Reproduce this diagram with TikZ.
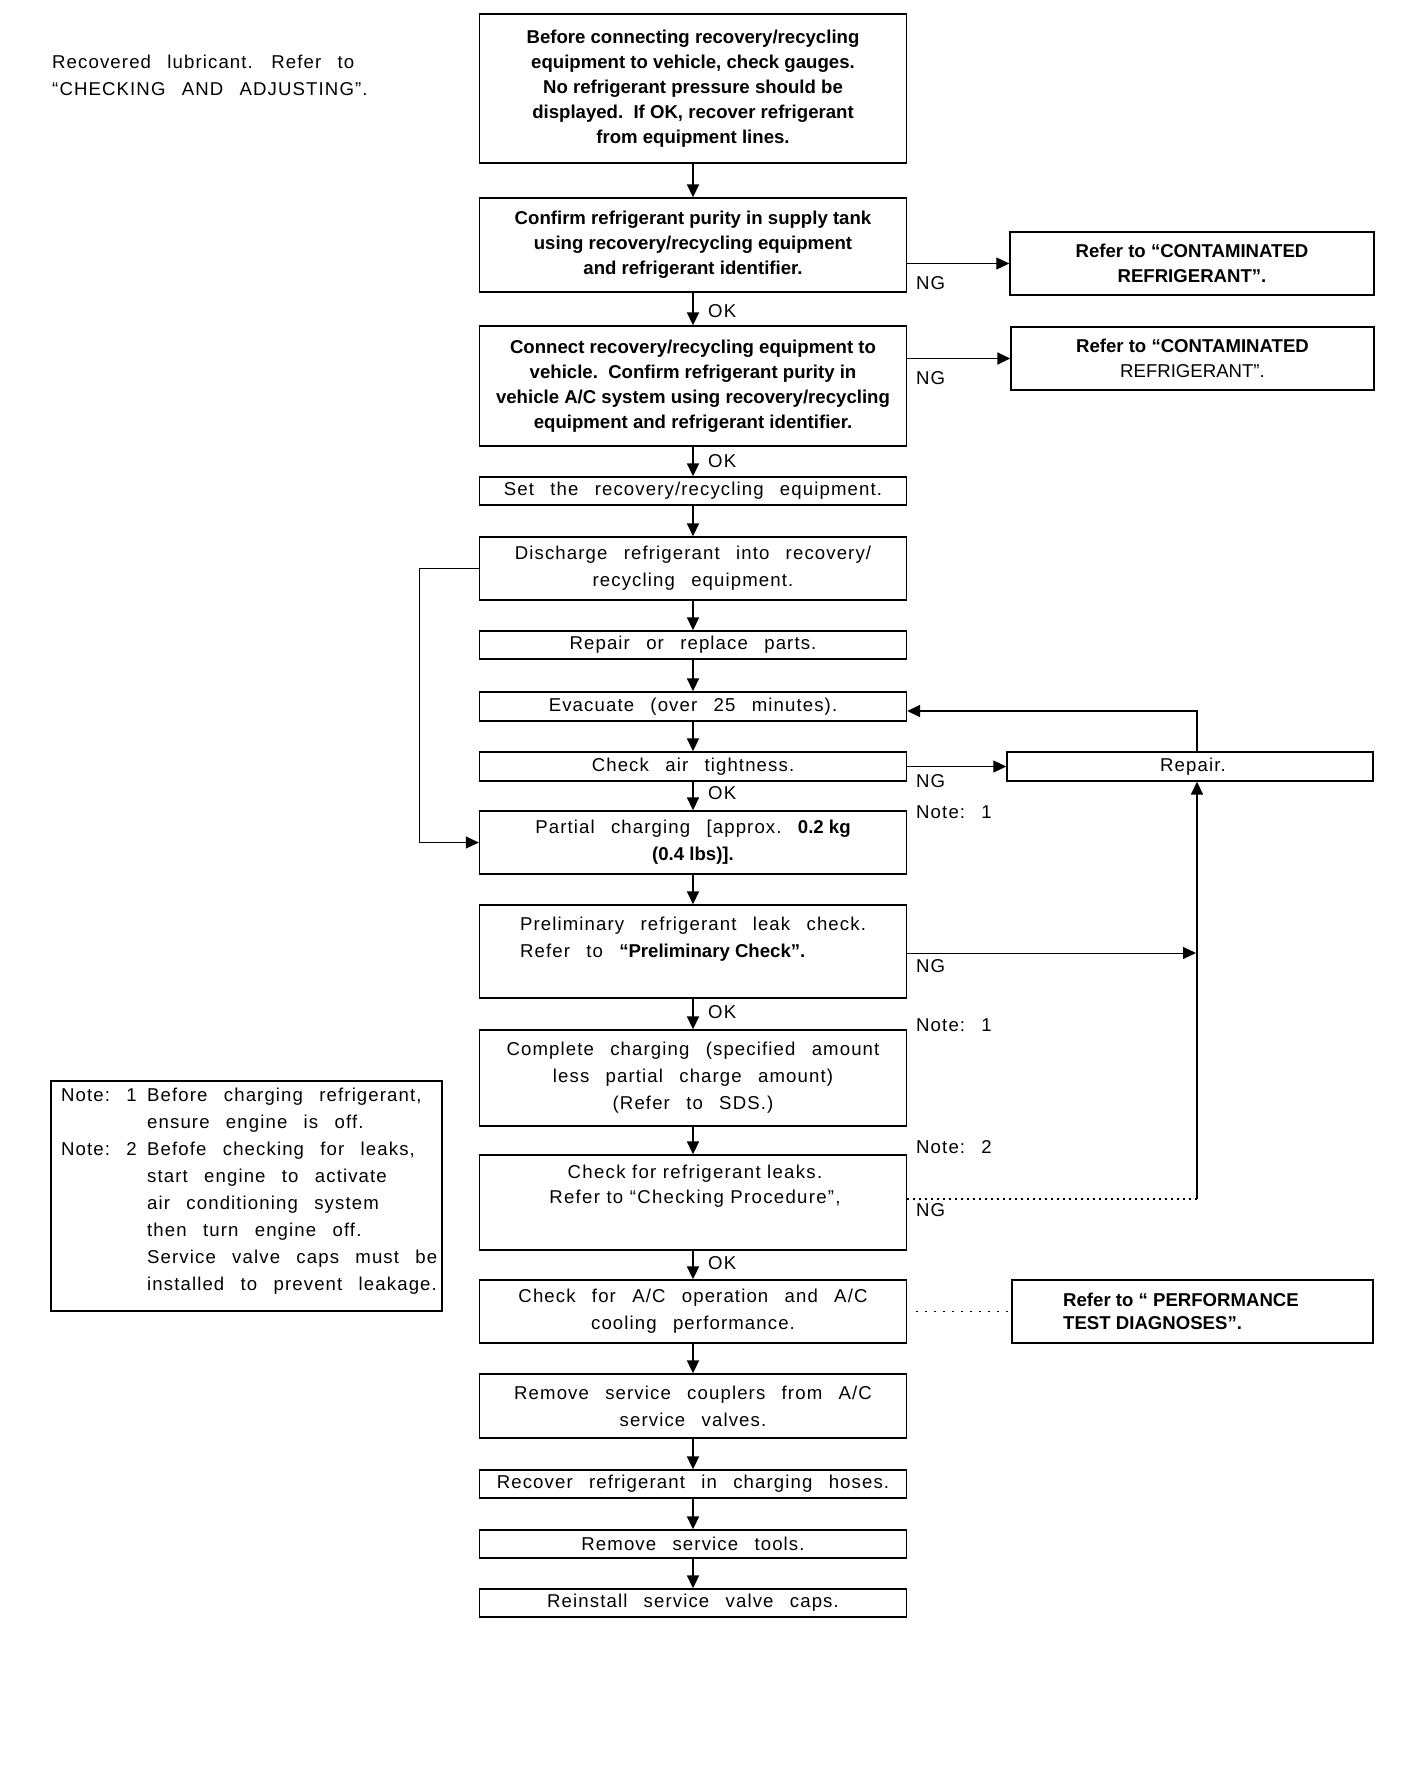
\documentclass[tikz,border=0pt]{standalone}
\usepackage{fontspec}
\setmainfont{Liberation Sans}
\newfontfamily\widefnt[LetterSpace=6,WordSpace=2.6]{Liberation Sans}
\newfontfamily\lsfnt[LetterSpace=7]{Liberation Sans}
\usetikzlibrary{arrows.meta}
\newcommand\bldt[1]{{\normalfont\bfseries #1}}
\tikzset{
  box/.style={draw, line width=1.4pt, inner sep=0pt, minimum width=427pt, align=center},
  sbox/.style={draw, line width=1.4pt, inner sep=0pt, align=center},
  boldtxt/.style={font=\fontsize{18.6}{25}\selectfont\bfseries},
  widetxt/.style={font=\fontsize{18.6}{27}\widefnt},
  lbl/.style={font=\fontsize{18.6}{27}\widefnt, inner sep=0pt, anchor=west},
  arr/.style={line width=1.8pt, -{Triangle[length=13pt,width=12pt]}},
  tarr/.style={line width=1pt, -{Triangle[length=13pt,width=12pt]}},
  sparse/.style={line width=1.3pt, dash pattern=on 1.3pt off 4.7pt},
  sparser/.style={line width=1.3pt, dash pattern=on 1.5pt off 7.5pt},
}
\begin{document}
\begin{tikzpicture}[x=1pt,y=-1pt]
\useasboundingbox (0,0) rectangle (1408,1778);

% top-left remark
\node[lbl, align=left] (rem) at (52,75) {Recovered lubricant. Refer to\\“CHECKING AND ADJUSTING”.};

% main column
\node[box, boldtxt, minimum height=149pt] (b1) at (693,88.5) {Before connecting recovery/recycling\\equipment to vehicle, check gauges.\\No refrigerant pressure should be\\displayed.\ \ If OK, recover refrigerant\\from equipment lines.};
\node[box, boldtxt, minimum height=94pt] (b2) at (693,245) {Confirm refrigerant purity in supply tank\\using recovery/recycling equipment\\and refrigerant identifier.};
\node[box, boldtxt, minimum height=120pt] (b3) at (693,386) {Connect recovery/recycling equipment to\\vehicle.\ \ Confirm refrigerant purity in\\vehicle A/C system using recovery/recycling\\equipment and refrigerant identifier.};
\node[box, widetxt, minimum height=28pt] (b4) at (693,491) {Set the recovery/recycling equipment.};
\node[box, widetxt, minimum height=63pt] (b5) at (693,568.5) {Discharge refrigerant into recovery/\\recycling equipment.};
\node[box, widetxt, minimum height=28pt] (b6) at (693,645) {Repair or replace parts.};
\node[box, widetxt, minimum height=29pt] (b7) at (693,706.5) {Evacuate (over 25 minutes).};
\node[box, widetxt, minimum height=29pt] (b8) at (693,766.5) {Check air tightness.};
\node[box, widetxt, minimum height=63pt] (b9) at (693,842.5) {Partial charging [approx.\ \bldt{0.2 kg}\\\bldt{(0.4 lbs)].}};
\node[box, minimum height=93pt] (b10) at (693,951.5) {};
\node[widetxt, align=left, inner sep=0pt] (t10) at (693,939) {Preliminary refrigerant leak check.\\Refer to \bldt{“Preliminary Check”.}};
\node[box, widetxt, minimum height=96pt] (b11) at (693,1078) {Complete charging (specified amount\\less partial charge amount)\\(Refer to SDS.)};
\node[box, minimum height=95pt] (b12) at (693,1202.5) {};
\node[font=\fontsize{18.6}{25}\lsfnt, align=center, inner sep=0pt] (t12) at (695,1186) {Check for refrigerant leaks.\\Refer to “Checking Procedure”,};
\node[box, widetxt, minimum height=63pt] (b13) at (693,1311.5) {Check for A/C operation and A/C\\cooling performance.};
\node[box, widetxt, minimum height=64pt] (b14) at (693,1406) {Remove service couplers from A/C\\service valves.};
\node[box, widetxt, minimum height=28pt] (b15) at (693,1484) {Recover refrigerant in charging hoses.};
\node[box, widetxt, minimum height=28pt] (b16) at (693,1544) {Remove service tools.};
\node[box, widetxt, minimum height=28pt] (b17) at (693,1603) {Reinstall service valve caps.};

% right column
\node[sbox, minimum width=364pt, minimum height=63pt, font=\fontsize{18.6}{24.5}\selectfont\bfseries] (c1) at (1192,263.5) {Refer to “CONTAMINATED\\REFRIGERANT”.};
\node[sbox, minimum width=363pt, minimum height=63pt, font=\fontsize{18.6}{24.5}\selectfont] (c2) at (1192.5,358.5) {{\bfseries Refer to “CONTAMINATED}\\REFRIGERANT”.};
\node[sbox, minimum width=366pt, minimum height=29pt] (rep) at (1190,766.5) {};
\node[widetxt, inner sep=0pt] (trep) at (1193,767) {Repair.};
\node[sbox, minimum width=361pt, minimum height=63pt] (pf) at (1192.5,1311.5) {};
\node[font=\fontsize{18.6}{23}\selectfont\bfseries, align=left, inner sep=0pt, anchor=west] (tpf) at (1063,1311) {Refer to “ PERFORMANCE\\TEST DIAGNOSES”.};

% note box
\node[sbox, minimum width=391pt, minimum height=230pt] (nb) at (246.5,1196) {};
\node[lbl, align=left] (nt) at (61,1191) {\makebox[86pt][l]{Note:\ 1}Before charging refrigerant,\\
\hspace*{86pt}ensure engine is off.\\
\makebox[86pt][l]{Note:\ 2}Befofe checking for leaks,\\
\hspace*{86pt}start engine to activate\\
\hspace*{86pt}air conditioning system\\
\hspace*{86pt}then turn engine off.\\
\hspace*{86pt}Service valve caps must be\\
\hspace*{86pt}installed to prevent leakage.};

% main arrows
\foreach \a/\b in {b1/b2,b2/b3,b3/b4,b4/b5,b5/b6,b6/b7,b7/b8,b8/b9,b9/b10,b10/b11,b11/b12,b12/b13,b13/b14,b14/b15,b15/b16,b16/b17}
  \draw[arr] (\a.south) -- (\b.north);

% OK labels
\node[lbl] (ok1) at (708,311) {OK};
\node[lbl] (ok2) at (708,461) {OK};
\node[lbl] (ok3) at (708,793) {OK};
\node[lbl] (ok4) at (708,1012) {OK};
\node[lbl] (ok5) at (708,1263) {OK};

% NG labels and notes
\node[lbl] (ng1) at (916,283) {NG};
\node[lbl] (ng2) at (916,378) {NG};
\node[lbl] (ng3) at (916,781) {NG};
\node[lbl] (ng4) at (916,966) {NG};
\node[lbl] (ng5) at (916,1210) {NG};
\node[lbl] (n1) at (916,812) {Note:\ 1};
\node[lbl] (n2) at (916,1025) {Note:\ 1};
\node[lbl] (n3) at (916,1147) {Note:\ 2};

% side connectors
\coordinate (vx) at (1197,0);
\coordinate (lk) at (1197,1199);
\coordinate (lx) at (419,0);
\draw[tarr] (b2.east |- c1.west) -- (c1.west);
\draw[arr] (b3.east |- c2.west) -- (c2.west);
\draw[tarr] (b8.east) -- (rep.west);
\draw[arr] (rep.north -| vx) |- ([yshift=-4.5pt]b7.east);
\draw[arr] (lk) -- (rep.south -| vx);
\draw[sparse] (b12.east |- lk) -- (lk);
\draw[tarr] ([yshift=-1.5pt]b10.east) -- ([yshift=-1.5pt,xshift=-1pt]b10.east -| vx);
\draw[tarr] (b5.west) -- (b5.west -| lx) |- (b9.west);
\draw[sparser] ([xshift=9pt]b13.east) -- (pf.west);
\end{tikzpicture}
\end{document}
